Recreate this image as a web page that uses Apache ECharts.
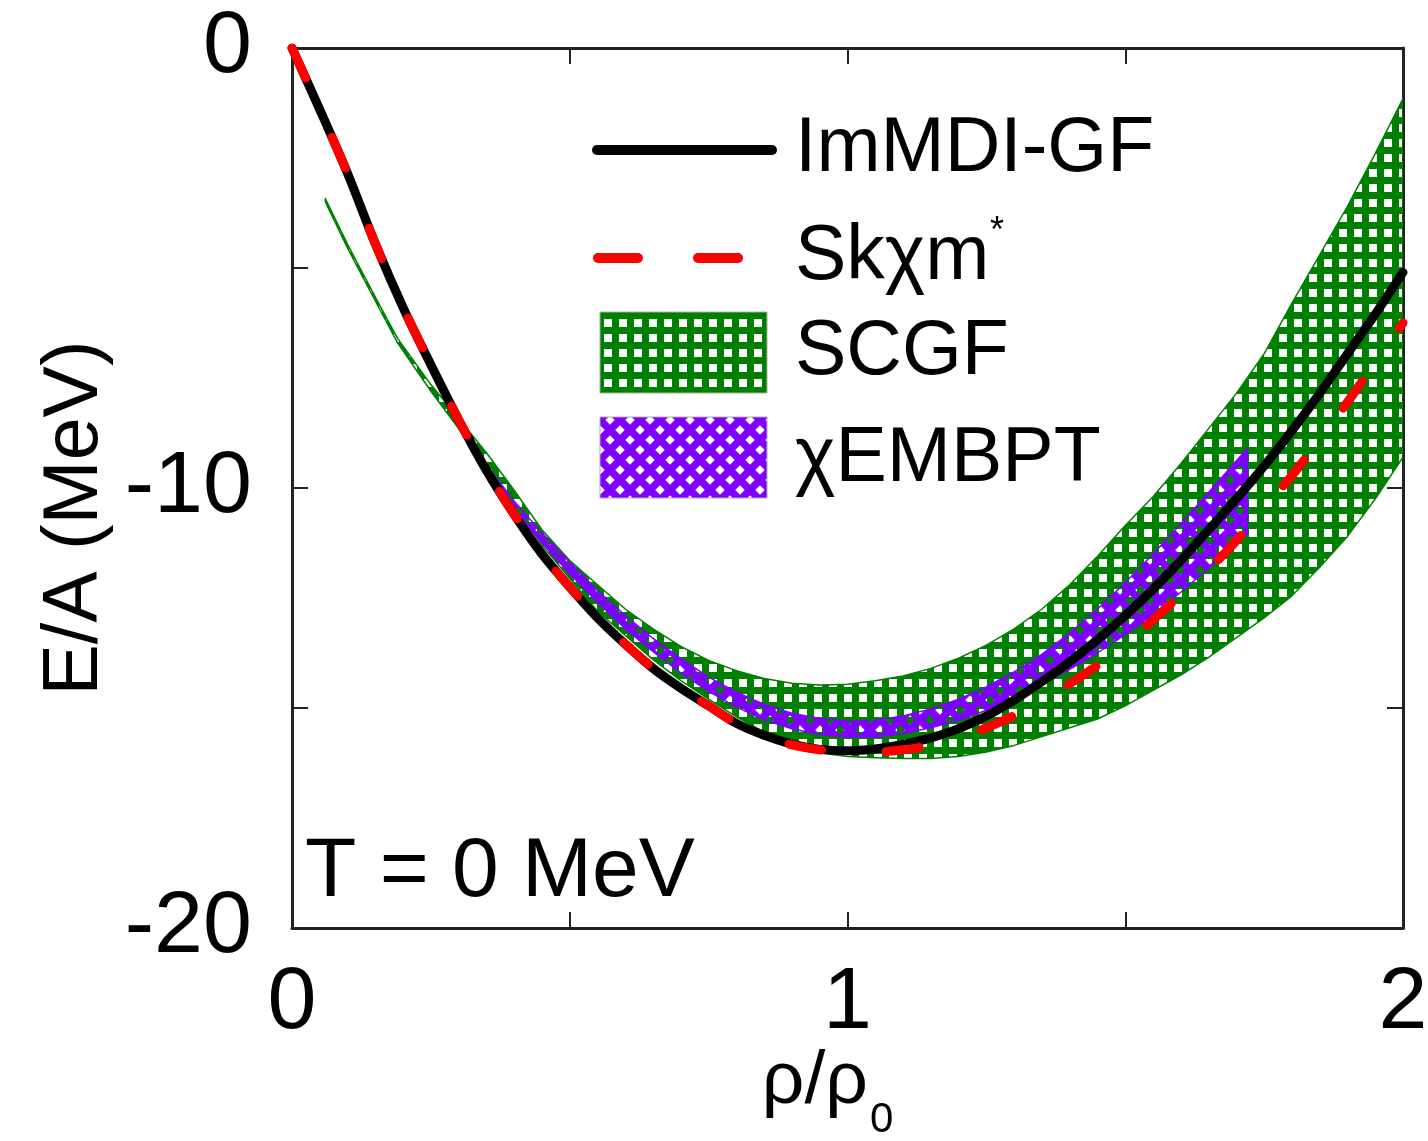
<!DOCTYPE html>
<html>
<head>
<meta charset="utf-8">
<script src="https://cdn.jsdelivr.net/npm/echarts@6/dist/echarts.min.js"></script>
<style>
  html, body { margin: 0; padding: 0; background: #ffffff; }
  #chart { width: 1428px; height: 1141px; }
</style>
</head>
<body>
<div id="chart"></div>
<script>
// Density grid (rho/rho0) shared by the two model curves
const densityGrid = [0, 0.05, 0.1, 0.15, 0.2, 0.25, 0.3, 0.35, 0.4, 0.45, 0.5, 0.55, 0.6, 0.65, 0.7, 0.75,
  0.8, 0.85, 0.9, 0.95, 1.0, 1.05, 1.1, 1.15, 1.2, 1.25, 1.3, 1.35, 1.4, 1.45, 1.5, 1.55, 1.6, 1.65, 1.7,
  1.75, 1.8, 1.85, 1.9, 1.95, 2.0];

// E/A (MeV), ImMDI-GF
const immdiGF = [0, -1.4, -2.85, -4.45, -5.9, -7.2, -8.45, -9.6, -10.6, -11.5, -12.25, -12.95, -13.55, -14.1,
  -14.55, -14.95, -15.35, -15.62, -15.82, -15.94, -15.97, -15.93, -15.83, -15.68, -15.47, -15.18, -14.82,
  -14.4, -13.95, -13.45, -12.9, -12.3, -11.65, -10.95, -10.25, -9.5, -8.7, -7.85, -6.95, -6.05, -5.1];

// E/A (MeV), Skχm*
const skchim = [0, -1.4, -2.85, -4.45, -5.9, -7.2, -8.45, -9.6, -10.6, -11.5, -12.25, -12.95, -13.55, -14.1,
  -14.55, -14.95, -15.35, -15.63, -15.84, -15.95, -16.0, -16.0, -15.95, -15.85, -15.67, -15.45, -15.17,
  -14.82, -14.45, -14.03, -13.55, -13.0, -12.43, -11.85, -11.2, -10.45, -9.72, -8.9, -8.05, -7.15, -6.25];

// SCGF band
const scgfDensity = [0.06, 0.1, 0.15, 0.19, 0.25, 0.3, 0.35, 0.4, 0.45, 0.5, 0.55, 0.6, 0.65, 0.7, 0.75,
  0.8, 0.85, 0.9, 0.95, 1.0, 1.05, 1.1, 1.15, 1.2, 1.25, 1.3, 1.35, 1.4, 1.45, 1.5, 1.55, 1.6, 1.65, 1.7,
  1.75, 1.8, 1.85, 1.9, 1.95, 2.0];
const scgfLower = [-3.5, -4.55, -5.75, -6.7, -7.8, -8.65, -9.45, -10.4, -11.3, -12.05, -12.8, -13.35, -13.9,
  -14.38, -14.8, -15.2, -15.55, -15.85, -16.02, -16.1, -16.13, -16.15, -16.15, -16.1, -16.0, -15.85, -15.65,
  -15.45, -15.25, -14.95, -14.6, -14.25, -13.85, -13.4, -12.95, -12.45, -11.8, -11.1, -10.25, -9.3];
const scgfUpper = [-3.42, -4.46, -5.66, -6.6, -7.65, -8.42, -9.2, -10.05, -10.95, -11.65, -12.2, -12.75, -13.2,
  -13.6, -13.92, -14.15, -14.33, -14.44, -14.48, -14.46, -14.38, -14.27, -14.1, -13.87, -13.57, -13.2, -12.75,
  -12.2, -11.55, -10.85, -10.2, -9.45, -8.65, -7.85, -6.95, -5.8, -4.7, -3.6, -2.4, -1.15];

// χEMBPT band
const chiDensity = [0, 0.05, 0.1, 0.15, 0.2, 0.25, 0.3, 0.35, 0.4, 0.45, 0.5, 0.55, 0.6, 0.65, 0.7, 0.75,
  0.8, 0.85, 0.9, 0.95, 1.0, 1.05, 1.1, 1.15, 1.2, 1.25, 1.3, 1.35, 1.4, 1.45, 1.5, 1.55, 1.6, 1.65, 1.7, 1.72];
const chiLower = [0, -1.5, -3.0, -4.6, -6.05, -7.33, -8.55, -9.62, -10.5, -11.25, -11.95, -12.6, -13.2, -13.72,
  -14.2, -14.62, -14.98, -15.27, -15.47, -15.6, -15.66, -15.66, -15.58, -15.45, -15.28, -15.05, -14.78,
  -14.47, -14.12, -13.75, -13.33, -12.87, -12.37, -11.83, -11.27, -11.05];
const chiUpper = [0, -1.4, -2.88, -4.47, -5.92, -7.2, -8.42, -9.47, -10.3, -11.02, -11.68, -12.33, -12.9, -13.42,
  -13.88, -14.3, -14.64, -14.92, -15.12, -15.24, -15.3, -15.28, -15.18, -15.02, -14.8, -14.52, -14.18,
  -13.78, -13.3, -12.75, -12.15, -11.5, -10.82, -10.1, -9.38, -9.1];

// Axis ticks
const xTicks = { min: 0, max: 2, step: 0.5 };
const yTicks = { min: -20, max: 0, step: 5 };
const xLabelled = [0, 1, 2];
const yLabelled = [0, -10, -20];

const FONT = '"Liberation Sans", Arial, Helvetica, sans-serif';
const GREEN = '#008000';
const PURPLE = '#7f00ff';

// Square mesh fill for the SCGF band
function meshPattern() {
  const c = document.createElement('canvas');
  c.width = 15; c.height = 15;
  const g = c.getContext('2d');
  g.fillStyle = GREEN;
  g.fillRect(0, 0, 15, 15);
  g.clearRect(4, 4, 8, 8);
  return c;
}
// Diagonal cross-hatch fill for the χEMBPT band
function hatchPattern() {
  const s = 20;
  const c = document.createElement('canvas');
  c.width = s; c.height = s;
  const g = c.getContext('2d');
  g.strokeStyle = PURPLE;
  g.lineWidth = 7.5;
  g.beginPath();
  for (const o of [-s, 0, s]) {
    g.moveTo(o, 0); g.lineTo(o + s, s);
    g.moveTo(o + s, 0); g.lineTo(o, s);
  }
  g.stroke();
  return c;
}
const meshFill = { image: meshPattern(), repeat: 'repeat' };
const hatchFill = { image: hatchPattern(), repeat: 'repeat' };

const pairs = (xs, ys) => xs.map((x, i) => [x, ys[i]]);

// A band is one polygon: lower edge left→right, upper edge right→left
function bandSeries(name, xs, lo, hi, color, fill, z) {
  return {
    name: name, type: 'custom', coordinateSystem: 'cartesian2d', z: z, silent: true, clip: true,
    data: xs.map((x, i) => [x, lo[i], hi[i]]),
    encode: { x: 0, y: [1, 2] },
    renderItem: function (params, api) {
      if (params.dataIndex !== 0) return null;
      const n = params.dataInsideLength;
      const bottom = [], top = [];
      for (let j = 0; j < n; j++) {
        const x = api.value(0, j);
        bottom.push(api.coord([x, api.value(1, j)]));
        top.push(api.coord([x, api.value(2, j)]));
      }
      return {
        type: 'polygon',
        shape: { points: bottom.concat(top.reverse()) },
        style: { fill: fill, stroke: color, lineWidth: 1.5, lineJoin: 'round' }
      };
    }
  };
}

const frameLine = { show: true, onZero: false, lineStyle: { color: '#222', width: 3 } };
const innerTick = { show: true, inside: true, length: 16, lineStyle: { color: '#222', width: 2 } };

const chart = echarts.init(document.getElementById('chart'), null, { renderer: 'canvas' });
chart.setOption({
  animation: false,
  backgroundColor: '#ffffff',
  grid: { left: 292, right: 25, top: 48, bottom: 213, containLabel: false, outerBoundsMode: 'none' },
  xAxis: [
    {
      type: 'value', position: 'bottom', min: xTicks.min, max: xTicks.max, interval: xTicks.step,
      axisLine: frameLine, axisTick: innerTick, splitLine: { show: false },
      axisLabel: {
        show: true, showMinLabel: true, showMaxLabel: true, margin: 32,
        fontSize: 88, fontFamily: FONT, color: '#000',
        formatter: v => (xLabelled.includes(v) ? String(v) : '')
      },
      name: '{m|ρ/ρ}{s|0}', nameLocation: 'middle', nameGap: 117, nameMoveOverlap: false,
      nameTextStyle: {
        padding: [0, 40, 0, 0],
        rich: {
          m: { fontSize: 75, fontFamily: FONT, color: '#000', lineHeight: 75, verticalAlign: 'top' },
          s: { fontSize: 42, fontFamily: FONT, color: '#000', lineHeight: 42, padding: [76, 0, 0, 2] }
        }
      }
    },
    {
      type: 'value', position: 'top', min: xTicks.min, max: xTicks.max, interval: xTicks.step,
      axisLine: frameLine, axisTick: innerTick, splitLine: { show: false }, axisLabel: { show: false }
    }
  ],
  yAxis: [
    {
      type: 'value', position: 'left', min: yTicks.min, max: yTicks.max, interval: yTicks.step,
      axisLine: frameLine, axisTick: innerTick, splitLine: { show: false },
      axisLabel: {
        show: true, showMinLabel: true, showMaxLabel: true, margin: 40,
        fontSize: 88, fontFamily: FONT, color: '#000',
        formatter: v => (yLabelled.includes(v) ? String(v) : '')
      },
      name: 'E/A (MeV)', nameLocation: 'middle', nameGap: 178, nameRotate: 90, nameMoveOverlap: false,
      nameTextStyle: { fontSize: 77, fontFamily: FONT, color: '#000', padding: [0, 60, 0, 0] }
    },
    {
      type: 'value', position: 'right', min: yTicks.min, max: yTicks.max, interval: yTicks.step,
      axisLine: frameLine, axisTick: innerTick, splitLine: { show: false }, axisLabel: { show: false }
    }
  ],
  series: [
    bandSeries('SCGF', scgfDensity, scgfLower, scgfUpper, GREEN, meshFill, 2),
    bandSeries('χEMBPT', chiDensity, chiLower, chiUpper, PURPLE, hatchFill, 3),
    {
      name: 'ImMDI-GF', type: 'line', data: pairs(densityGrid, immdiGF), symbol: 'none', smooth: 0.3, z: 4,
      lineStyle: { color: '#000', width: 9, cap: 'round', join: 'round' }
    },
    {
      name: 'Skχm*', type: 'line', data: pairs(densityGrid, skchim), symbol: 'none', smooth: 0.3, z: 5,
      lineStyle: { color: '#ff0000', width: 9, type: [33, 65], cap: 'round' }
    }
  ],
  graphic: [
    // legend keys
    { type: 'line', z: 10, shape: { x1: 597, y1: 150, x2: 772, y2: 150 },
      style: { stroke: '#000', lineWidth: 10, lineCap: 'round' } },
    { type: 'line', z: 10, shape: { x1: 598, y1: 258, x2: 638, y2: 258 },
      style: { stroke: '#ff0000', lineWidth: 10, lineCap: 'round' } },
    { type: 'line', z: 10, shape: { x1: 698, y1: 258, x2: 738, y2: 258 },
      style: { stroke: '#ff0000', lineWidth: 10, lineCap: 'round' } },
    { type: 'rect', z: 10, shape: { x: 600, y: 312, width: 167, height: 81 },
      style: { fill: meshFill, stroke: '#aaaaaa', lineWidth: 1 } },
    { type: 'rect', z: 10, shape: { x: 600, y: 417, width: 167, height: 81 },
      style: { fill: hatchFill, stroke: '#aaaaaa', lineWidth: 1 } },
    // legend labels
    { type: 'text', z: 10, style: { text: 'ImMDI-GF', x: 795, y: 150, font: '77px ' + FONT, fill: '#000',
      align: 'left', verticalAlign: 'middle' } },
    { type: 'text', z: 10, style: { text: 'Skχm', x: 795, y: 258, font: '77px ' + FONT, fill: '#000',
      align: 'left', verticalAlign: 'middle' } },
    { type: 'text', z: 10, style: { text: '*', x: 990, y: 232, font: '36px ' + FONT, fill: '#000',
      align: 'left', verticalAlign: 'middle' } },
    { type: 'text', z: 10, style: { text: 'SCGF', x: 795, y: 353, font: '77px ' + FONT, fill: '#000',
      align: 'left', verticalAlign: 'middle' } },
    { type: 'text', z: 10, style: { text: 'χEMBPT', x: 795, y: 460, font: '77px ' + FONT, fill: '#000',
      align: 'left', verticalAlign: 'middle' } },
    // temperature annotation
    { type: 'text', z: 10, style: { text: 'T = 0 MeV', x: 305, y: 873, font: '84px ' + FONT, fill: '#000',
      align: 'left', verticalAlign: 'middle' } }
  ]
});
</script>
</body>
</html>
